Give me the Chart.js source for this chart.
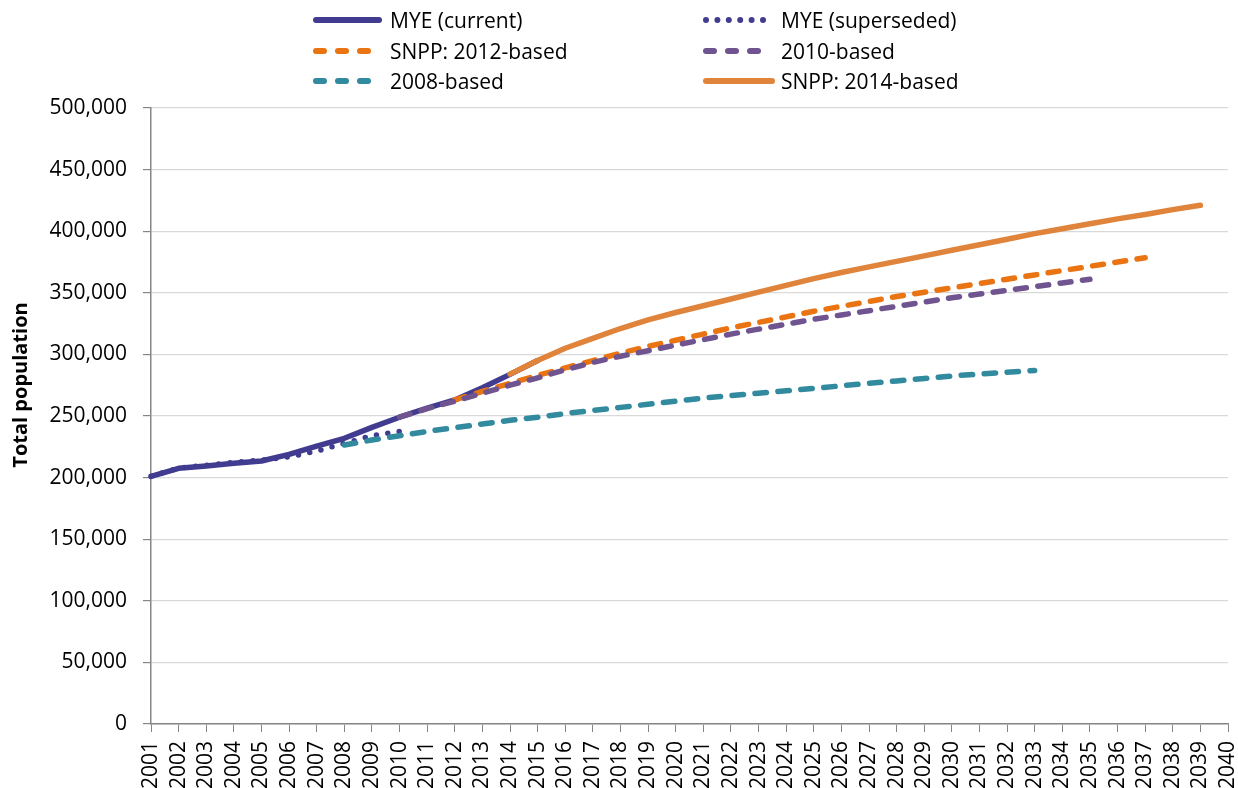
<!DOCTYPE html>
<html>
<head>
<meta charset="utf-8">
<script src="https://cdn.jsdelivr.net/npm/chart.js@4/dist/chart.umd.min.js"></script>
<style>
  html, body { margin: 0; padding: 0; background: #fff; }
  #wrap { position: relative; width: 1238px; height: 788px; overflow: hidden; }
  #c { position: absolute; left: 0; top: 0; }
  #legend { position: absolute; left: 0; top: 0; width: 1238px; height: 100px; }
  .lt { position: absolute; font-family: "Open Sans", sans-serif; font-size: 21px; color: #000; line-height: 1; white-space: nowrap; transform: translateY(-50%); }
</style>
</head>
<body>
<div id="wrap">
  <canvas id="c" width="1238" height="788"></canvas>
  <div id="legend"></div>
</div>
<script>
// ---- Data (persons) ----
const years = ["2001","2002","2003","2004","2005","2006","2007","2008","2009","2010",
  "2011","2012","2013","2014","2015","2016","2017","2018","2019","2020",
  "2021","2022","2023","2024","2025","2026","2027","2028","2029","2030",
  "2031","2032","2033","2034","2035","2036","2037","2038","2039","2040"];

const myeCurrentStart = 2001;
const myeCurrent = [201000, 207500, 209400, 211600, 213500, 218900, 225600, 231900, 240800, 249000,
  256300, 263000, 273000, 283800, 295000];

const myeSupersededStart = 2001;
const myeSuperseded = [201000, 207800, 210000, 212300, 214300, 216800, 221500, 227800, 234000, 237500];

const snpp2012Start = 2012;
const snpp2012 = [263000, 270000, 276500, 283000, 289000, 295000, 301000, 306500, 311500, 316500,
  321500, 326000, 330500, 335000, 339000, 343000, 347000, 350500, 354000, 357500,
  361000, 364500, 368000, 371500, 375000, 378500];

const snpp2010Start = 2010;
const snpp2010 = [249000, 256000, 262000, 268500, 275000, 281000, 287500, 293500, 298500, 303000,
  307500, 312000, 316500, 320500, 324500, 328500, 332000, 335500, 339000, 342500,
  346000, 349000, 352000, 355000, 358000, 361000];

const snpp2008Start = 2008;
const snpp2008 = [226500, 230500, 234000, 237500, 240500, 243500, 246500, 249000, 252000, 254500,
  257000, 259500, 262000, 264500, 266500, 268500, 270500, 272500, 274500, 276500,
  278500, 280500, 282500, 284000, 285500, 287000];

const snpp2014Start = 2014;
const snpp2014 = [284000, 295000, 305000, 313000, 321000, 328000, 334000, 339500, 345000, 350500,
  356000, 361500, 366500, 371000, 375500, 380000, 384500, 389000, 393500, 398000,
  402000, 406000, 410000, 413500, 417500, 421000];

const yTicks = [0, 50000, 100000, 150000, 200000, 250000, 300000, 350000, 400000, 450000, 500000];
const yTitle = "Total population";

// ---- helpers ----
function place(values, start) {
  const out = years.map(() => null);
  const i0 = years.indexOf(String(start));
  values.forEach((v, i) => { out[i0 + i] = v; });
  return out;
}

const C = {
  navy: "#413c90",
  orangeDash: "#ea7412",
  purple: "#70548f",
  teal: "#328a9f",
  orange: "#e0843b"
};

const FONT = "'Open Sans', sans-serif";

const yTitlePlugin = {
  id: "yTitle",
  afterDraw(chart) {
    const ctx = chart.ctx;
    ctx.save();
    ctx.translate(21, 385);
    ctx.rotate(-Math.PI / 2);
    ctx.font = "bold 20px " + FONT;
    ctx.fillStyle = "#000";
    ctx.textAlign = "center";
    ctx.textBaseline = "middle";
    ctx.fillText(yTitle, 0, 0);
    ctx.restore();
  }
};

const common = { fill: false, pointRadius: 0, pointHoverRadius: 0, tension: 0, spanGaps: false, borderWidth: 5.5 };

new Chart(document.getElementById("c"), {
  type: "line",
  data: {
    labels: years,
    datasets: [
      Object.assign({ label: "SNPP: 2014-based", data: place(snpp2014, snpp2014Start), borderColor: C.orange, borderCapStyle: "round", borderJoinStyle: "round" }, common),
      Object.assign({ label: "2010-based", data: place(snpp2010, snpp2010Start), borderColor: C.purple, borderDash: [11, 11.5], borderCapStyle: "round" }, common),
      Object.assign({ label: "SNPP: 2012-based", data: place(snpp2012, snpp2012Start), borderColor: C.orangeDash, borderDash: [11, 11.5], borderCapStyle: "round" }, common),
      Object.assign({ label: "2008-based", data: place(snpp2008, snpp2008Start), borderColor: C.teal, borderDash: [11.5, 11.5], borderCapStyle: "round" }, common),
      Object.assign({ label: "MYE (current)", data: place(myeCurrent, myeCurrentStart), borderColor: C.navy, borderCapStyle: "round", borderJoinStyle: "round" }, common),
      Object.assign({ label: "MYE (superseded)", data: place(myeSuperseded, myeSupersededStart), borderColor: C.navy, borderDash: [0, 11.5], borderCapStyle: "round" }, common)
    ]
  },
  options: {
    responsive: false,
    animation: false,
    devicePixelRatio: 1,
    layout: { padding: { top: 108, right: 10, left: 0, bottom: 0 } },
    plugins: { legend: { display: false }, tooltip: { enabled: false }, title: { display: false } },
    scales: {
      x: {
        type: "category",
        offset: false,
        grid: { display: true, drawOnChartArea: false, drawTicks: true, tickLength: 8, tickColor: "#868686", color: "#868686" },
        border: { display: true, color: "#868686", width: 1.5 },
        ticks: { autoSkip: false, maxRotation: 90, minRotation: 90, padding: 9, color: "#000", font: { family: FONT, size: 21 } },
        afterFit(scale) { scale.height = 64; scale.paddingLeft = 0; scale.paddingRight = 0; }
      },
      y: {
        min: 0, max: 500000,
        afterBuildTicks(scale) { scale.ticks = yTicks.map(v => ({ value: v })); },
        grid: { color: "#d9d9d9", lineWidth: 1.2, drawTicks: true, tickLength: 8, tickColor: "#868686" },
        border: { display: true, color: "#868686", width: 1.5 },
        ticks: { padding: 16, color: "#000", font: { family: FONT, size: 21 },
          callback: (v) => Number(v).toLocaleString("en-US") },
        afterFit(scale) { scale.width = 151; scale.paddingTop = 0; scale.paddingBottom = 0; }
      }
    }
  },
  plugins: [yTitlePlugin]
});

// ---- HTML legend ----
const legendItems = [
  { text: "MYE (current)",    x1: 316, x2: 379, y: 20, color: C.navy,       dash: null,      textX: 390 },
  { text: "MYE (superseded)", x1: 706, x2: 764, y: 20, color: C.navy,       dash: "0 11.4",  textX: 781 },
  { text: "SNPP: 2012-based", x1: 316, x2: 369, y: 51, color: C.orangeDash, dash: "8 14",    textX: 390 },
  { text: "2010-based",       x1: 706, x2: 763, y: 51, color: C.purple,     dash: "8 14",    textX: 781 },
  { text: "2008-based",       x1: 316, x2: 369, y: 81, color: C.teal,       dash: "8 14",    textX: 390 },
  { text: "SNPP: 2014-based", x1: 706, x2: 772, y: 81, color: C.orange,     dash: null,      textX: 781 }
];
const lg = document.getElementById("legend");
const NS = "http://www.w3.org/2000/svg";
const svg = document.createElementNS(NS, "svg");
svg.setAttribute("width", "1238"); svg.setAttribute("height", "100");
svg.style.position = "absolute"; svg.style.left = "0"; svg.style.top = "0";
legendItems.forEach(it => {
  const l = document.createElementNS(NS, "line");
  l.setAttribute("x1", it.x1); l.setAttribute("x2", it.x2);
  l.setAttribute("y1", it.y); l.setAttribute("y2", it.y);
  l.setAttribute("stroke", it.color); l.setAttribute("stroke-width", "6");
  l.setAttribute("stroke-linecap", "round");
  if (it.dash) l.setAttribute("stroke-dasharray", it.dash);
  svg.appendChild(l);
  const s = document.createElement("div");
  s.className = "lt"; s.textContent = it.text;
  s.style.left = it.textX + "px"; s.style.top = it.y + "px";
  lg.appendChild(s);
});
lg.appendChild(svg);
</script>
</body>
</html>
